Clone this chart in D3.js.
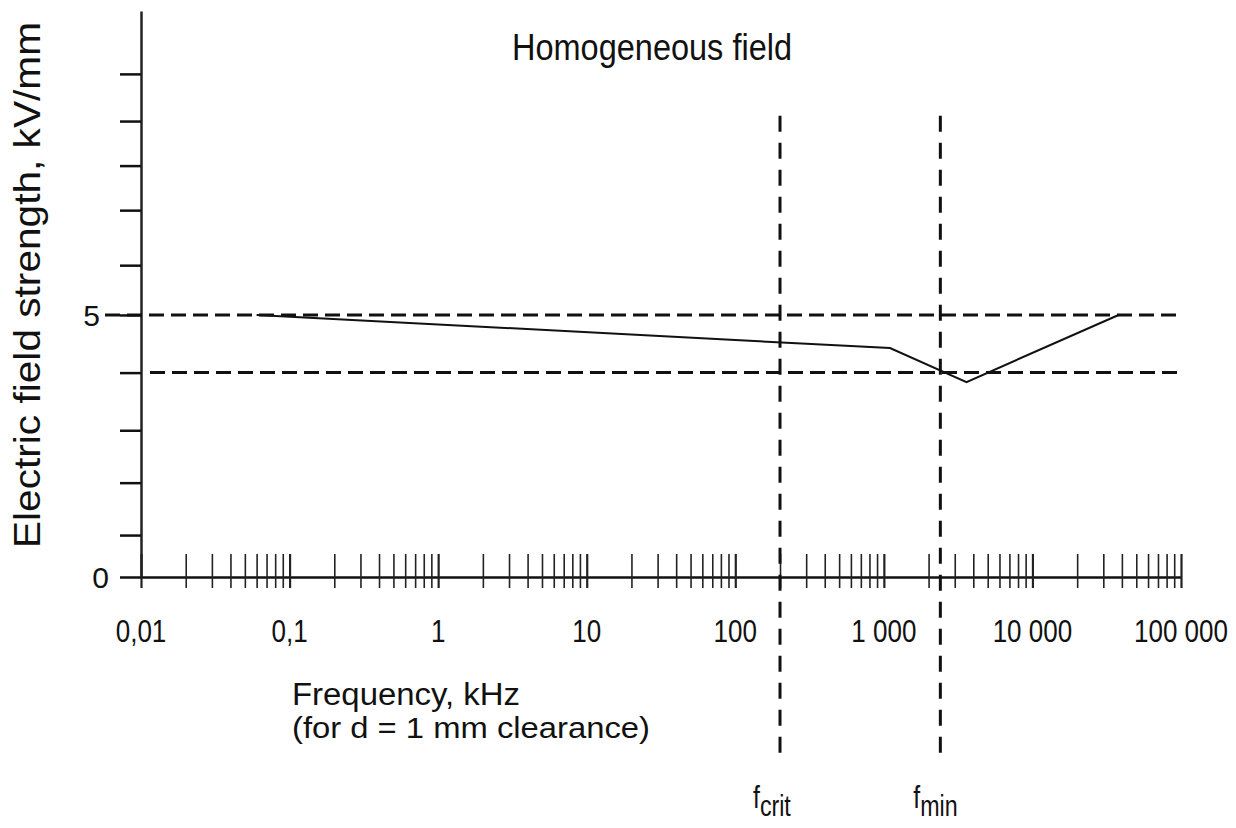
<!DOCTYPE html>
<html>
<head>
<meta charset="utf-8">
<script src="https://cdn.jsdelivr.net/npm/d3@7"></script>
<style>
    html, body { margin: 0; padding: 0; background: #fff; }
    text { font-family: "Liberation Sans", Arial, sans-serif; fill: #111; }
</style>
</head>
<body>
<div id="chart"></div>
<script>
"use strict";

// decade labels on the frequency axis (kHz)
var decades = [0.01, 0.1, 1, 10, 100, 1000, 10000, 100000];
var decadeLabels = ["0,01", "0,1", "1", "10", "100", "1 000", "10 000", "100 000"];

// field strength axis ticks (kV/mm), as they sit on the scan
var yTickValues = [0, 0.8, 1.8, 2.8, 3.9, 5, 5.95, 7.0, 7.85, 8.7, 9.6];
var yLabelValues = [0, 5];
var yLabels = ["0", "5"];

// breakdown curve, homogeneous field, d = 1 mm
var freq = [0.06, 1, 100, 1100, 3600, 38000];
var strength = [5.0, 4.82, 4.52, 4.37, 3.72, 5.0];

// dashed reference levels and frequencies
var levels = [5, 3.9];
var markerFreqs = [200, 2400];
var markerSubs = ["crit", "min"];


var W = 1236, H = 828;
var svg = d3.select("#chart").append("svg")
    .attr("width", W)
    .attr("height", H);

var x = d3.scaleLog().domain([0.01, 100000]).range([141, 1181]);
var y = d3.scaleLinear().domain([0, 10.8]).range([577, 11]);

//y axis: ticks to the left, no labels
var yAxis = d3.axisLeft(y)
    .tickValues(yTickValues)
    .tickSize(21)
    .tickSizeOuter(0)
    .tickFormat(function () { return ""; });
var gy = svg.append("g")
    .attr("transform", "translate(" + x(0.01) + ",0)")
    .call(yAxis);
gy.select(".domain").attr("stroke", "#222").attr("stroke-width", 2.5);
gy.selectAll(".tick line").attr("stroke", "#111").attr("stroke-width", 2.5);

//x axis: every log tick, crossing the axis line
var xAxis = d3.axisBottom(x)
    .tickValues(x.ticks())
    .tickSize(0)
    .tickSizeOuter(0)
    .tickFormat(function () { return ""; });
var gx = svg.append("g")
    .attr("transform", "translate(0," + y(0) + ")")
    .call(xAxis);
gx.select(".domain").attr("stroke", "#111").attr("stroke-width", 2.5);
gx.selectAll(".tick line")
    .attr("y1", -23)
    .attr("y2", 11)
    .attr("stroke", "#222")
    .attr("stroke-width", function (d) {
        return decades.indexOf(d) >= 0 ? 2.2 : 1.6; });

//decade labels, narrow like the scan
gx.selectAll("text.dec")
    .data(decades)
    .enter().append("text")
    .attr("class", "dec")
    .attr("transform", function (d) {
        return "translate(" + x(d) + ",65) scale(0.84,1)"; })
    .attr("text-anchor", "middle")
    .style("font-size", "31px")
    .text(function (d, i) { return decadeLabels[i]; });

//y labels 0 and 5
svg.selectAll("text.ylab")
    .data(yLabelValues)
    .enter().append("text")
    .attr("class", "ylab")
    .attr("x", function (d) { return d === 0 ? 109 : 100; })
    .attr("y", function (d) { return y(d) + 11; })
    .attr("text-anchor", "end")
    .style("font-size", "30px")
    .text(function (d, i) { return yLabels[i]; });

//horizontal dashed levels
svg.selectAll("line.level")
    .data(levels)
    .enter().append("line")
    .attr("class", "level")
    .attr("x1", function (d, i) { return i === 0 ? 105 : 150; })
    .attr("x2", x(100000))
    .attr("y1", function (d) { return y(d); })
    .attr("y2", function (d) { return y(d); })
    .attr("stroke", "#111")
    .attr("stroke-width", 3)
    .attr("stroke-dasharray", "15,7");

//vertical dashed markers
svg.selectAll("line.marker")
    .data(markerFreqs)
    .enter().append("line")
    .attr("class", "marker")
    .attr("x1", function (d) { return x(d); })
    .attr("x2", function (d) { return x(d); })
    .attr("y1", y(8.8))
    .attr("y2", y(-3.5))
    .attr("stroke", "#111")
    .attr("stroke-width", 3)
    .attr("stroke-dasharray", "16,11");

var flab = svg.selectAll("text.flab")
    .data(markerFreqs)
    .enter().append("text")
    .attr("class", "flab")
    .attr("transform", function (d) {
        return "translate(" + (x(d) - 27) + ",808) scale(0.8,1)"; })
    .style("font-size", "31px");
flab.append("tspan").text("f");
flab.append("tspan")
    .attr("dy", 8)
    .style("font-size", "29px")
    .text(function (d, i) { return markerSubs[i]; });

//the curve
var pts = freq.map(function (f, i) { return [f, strength[i]]; });
svg.append("path")
    .datum(pts)
    .attr("fill", "none")
    .attr("stroke", "#111")
    .attr("stroke-width", 2)
    .attr("d", d3.line()
        .x(function (d) { return x(d[0]); })
        .y(function (d) { return y(d[1]); }));

//titles
svg.append("text")
    .attr("x", 512)
    .attr("y", 60)
    .attr("textLength", 280)
    .attr("lengthAdjust", "spacingAndGlyphs")
    .style("font-size", "36px")
    .text("Homogeneous field");

svg.append("text")
    .attr("x", 292)
    .attr("y", 705)
    .attr("textLength", 228)
    .attr("lengthAdjust", "spacingAndGlyphs")
    .style("font-size", "31px")
    .text("Frequency, kHz");

svg.append("text")
    .attr("x", 292)
    .attr("y", 738)
    .attr("textLength", 358)
    .attr("lengthAdjust", "spacingAndGlyphs")
    .style("font-size", "30px")
    .text("(for d = 1 mm clearance)");

svg.append("text")
    .attr("transform", "translate(40,548) rotate(-90)")
    .attr("textLength", 526)
    .attr("lengthAdjust", "spacingAndGlyphs")
    .style("font-size", "36px")
    .text("Electric field strength, kV/mm");
</script>
</body>
</html>
